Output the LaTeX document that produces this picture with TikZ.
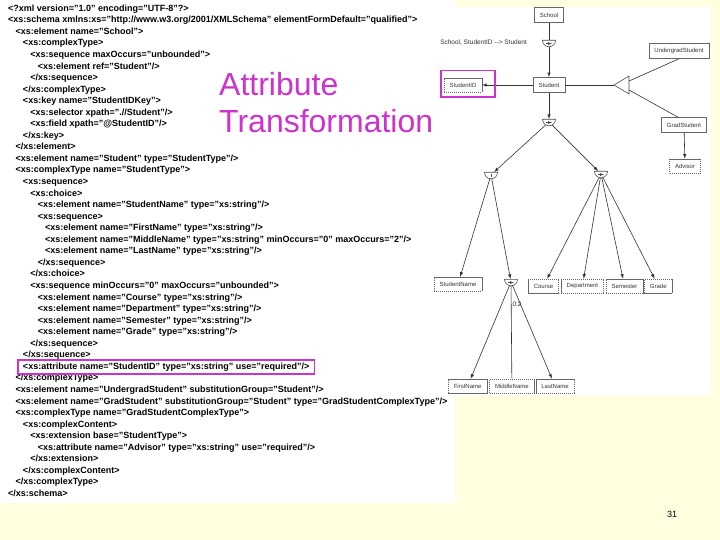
\documentclass[tikz,border=0pt]{standalone}
\usepackage{fontspec}
\setmainfont{Liberation Sans}
\usetikzlibrary{positioning,fit,shapes.geometric}

\definecolor{slidebg}{RGB}{255,255,224}
\definecolor{pinkish}{RGB}{204,51,204}

\begin{document}
\begin{tikzpicture}[
  x=1pt, y=-1pt,
  codeline/.style={anchor=base west, inner sep=0pt, font=\fontsize{9}{11}\selectfont\bfseries},
  heading/.style={anchor=base west, inner sep=0pt, text=pinkish, font=\fontsize{32}{36}\selectfont},
  box/.style={draw=black!60, fill=white, line width=0.6pt, font=\fontsize{6}{7}\selectfont, text=black!80,
    inner xsep=5.5pt, inner ysep=0pt, minimum height=15pt},
  attr/.style={box, dash pattern=on 1.2pt off 0.8pt, minimum height=14pt},
  compositor/.style={semicircle, shape border rotate=180, draw=black!70, fill=white, line width=0.6pt,
    minimum width=13pt, minimum height=0pt, inner sep=0pt, anchor=chord center},
  seqsym/.style={compositor, path picture={\draw[-latex, line width=0.45pt]
    ([xshift=-3pt]path picture bounding box.center) -- ++(6,0);}},
  choicesym/.style={compositor, path picture={\draw[line width=0.6pt]
    ([yshift=-1.8pt]path picture bounding box.center) -- ++(0,-3.6);}},
  link/.style={draw=black!80, line width=0.6pt, -latex},
  lbl/.style={font=\fontsize{6.5}{7.5}\selectfont, text=black!80, inner sep=1pt},
  hilite/.style={draw=pinkish, line width=1.6pt}
]
\useasboundingbox (0,0) rectangle (720,540);
\fill[slidebg] (0,0) rectangle (720,540);
\fill[white] (432,7) rectangle (711,396);
\fill[white] (0,0) rectangle (455,503);

% schema listing
\foreach \ind/\txt [count=\i] in {
  0/{<?xml version="1.0" encoding="UTF-8"?>},
  0/{<xs:schema xmlns:xs="http://www.w3.org/2001/XMLSchema" elementFormDefault="qualified">},
  1/{<xs:element name="School">},
  2/{<xs:complexType>},
  3/{<xs:sequence maxOccurs="unbounded">},
  4/{<xs:element ref="Student"/>},
  3/{</xs:sequence>},
  2/{</xs:complexType>},
  2/{<xs:key name="StudentIDKey">},
  3/{<xs:selector xpath=".//Student"/>},
  3/{<xs:field xpath="@StudentID"/>},
  2/{</xs:key>},
  1/{</xs:element>},
  1/{<xs:element name="Student" type="StudentType"/>},
  1/{<xs:complexType name="StudentType">},
  2/{<xs:sequence>},
  3/{<xs:choice>},
  4/{<xs:element name="StudentName" type="xs:string"/>},
  4/{<xs:sequence>},
  5/{<xs:element name="FirstName" type="xs:string"/>},
  5/{<xs:element name="MiddleName" type="xs:string" minOccurs="0" maxOccurs="2"/>},
  5/{<xs:element name="LastName" type="xs:string"/>},
  4/{</xs:sequence>},
  3/{</xs:choice>},
  3/{<xs:sequence minOccurs="0" maxOccurs="unbounded">},
  4/{<xs:element name="Course" type="xs:string"/>},
  4/{<xs:element name="Department" type="xs:string"/>},
  4/{<xs:element name="Semester" type="xs:string"/>},
  4/{<xs:element name="Grade" type="xs:string"/>},
  3/{</xs:sequence>},
  2/{</xs:sequence>},
  2/{<xs:attribute name="StudentID" type="xs:string" use="required"/>},
  1/{</xs:complexType>},
  1/{<xs:element name="UndergradStudent" substitutionGroup="Student"/>},
  1/{<xs:element name="GradStudent" substitutionGroup="Student" type="GradStudentComplexType"/>},
  1/{<xs:complexType name="GradStudentComplexType">},
  2/{<xs:complexContent>},
  3/{<xs:extension base="StudentType">},
  4/{<xs:attribute name="Advisor" type="xs:string" use="required"/>},
  3/{</xs:extension>},
  2/{</xs:complexContent>},
  1/{</xs:complexType>},
  0/{</xs:schema>}}
  \node[codeline] (l\i) at (8+7.4*\ind, 11.3+11.55*\i-11.55) {\txt};
\node[hilite, fit=(l32), inner xsep=5pt, inner ysep=2.6pt] (attrmark) {};

\node[heading] (ttl1) at (219,96) {Attribute};
\node[heading] (ttl2) at (219,133) {Transformation};

% schema graph
\node[box] (school) at (549,15) {School};
\node[seqsym] (keysym) at (549,40) {};
\node[lbl, anchor=east] (keylbl) at (528,43) {School, StudentID -{}-> Student};
\node[box] (stud) at (549,85) {Student};
\node[attr] (sid) at (463,85) {StudentID};
\node[box] (ugrad) at (679,51) {UndergradStudent};
\node[box] (grad) at (684,125) {GradStudent};
\node[attr] (advisor) at (685,166) {Advisor};
\node[seqsym] (seqtop) at (549,119) {};
\node[choicesym] (choice) at (491,172) {};
\node[seqsym] (seqcourse) at (601,171) {};
\node[attr] (sname) at (458,284) {StudentName};
\node[seqsym] (seqname) at (511,279) {};
\node[attr, anchor=west] (course) at (528,286) {Course};
\node[attr, right=2pt of course] (dept) {Department};
\node[attr, right=2pt of dept] (sem) {Semester};
\node[attr, right=1pt of sem] (grade) {Grade};
\node[attr, anchor=west] (fname) at (448,386) {FirstName};
\node[attr, right=2pt of fname] (mname) {MiddleName};
\node[attr, right=1pt of mname] (lname) {LastName};

\coordinate (triapex) at (614,85);
\coordinate (triup) at (629,81);
\coordinate (trilow) at (629,90);
\draw[draw=black!70, line width=0.6pt, fill=white] (triapex) -- ++(15,-9) -- ++(0,18) -- cycle;

\draw[link, -] (school) -- (keysym);
\draw[link] (keysym) -- (stud);
\draw[link] (stud) -- (sid);
\draw[link, -] (stud) -- (triapex);
\draw[link, -] (triup) -- (ugrad.south);
\draw[link, -] (trilow) -- ([xshift=-6pt]grad.north);
\draw[link] (grad) -- (advisor);
\draw[link] (stud) -- (seqtop);
\draw[link] (seqtop) -- (choice);
\draw[link] (seqtop) -- (seqcourse);
\draw[link] (choice) -- (sname);
\draw[link] (choice) -- (seqname);
\foreach \t in {course,dept,sem,grade}
  \draw[link] (seqcourse) -- (\t);
\draw[link] (seqname) -- (fname);
\draw[link, -] (seqname) -- node[lbl, pos=0.2, anchor=west] (occ) {0:2} (mname);
\draw[link] (seqname) -- (lname);
\draw[hilite] ([shift={(-3,-7)}]sid.north west) rectangle ([shift={(13,5)}]sid.south east);

\node[font=\fontsize{9}{10}\selectfont] (pnum) at (672,514) {31};
\end{tikzpicture}
\end{document}
